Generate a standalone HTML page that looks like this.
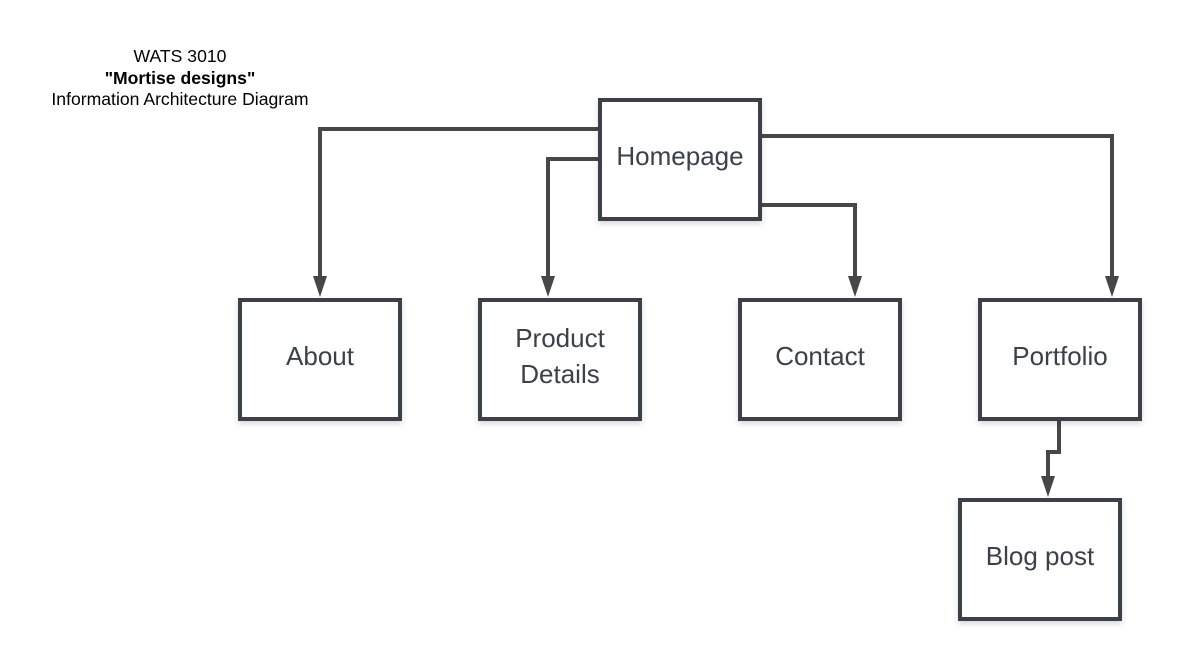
<!DOCTYPE html>
<html><head><style>
body{margin:0;background:#fff;}
svg{display:block;font-family:"Liberation Sans",sans-serif;}
</style></head><body>
<svg width="1180" height="660" viewBox="0 0 1180 660">
<defs>
<filter id="sh" x="-10%" y="-10%" width="130%" height="130%"><feDropShadow dx="0" dy="3" stdDeviation="3" flood-color="#000" flood-opacity="0.15"/></filter>
</defs>
<g fill="none" stroke="#474747" stroke-width="4">
<polyline points="600,129 320,129 320,280"/>
<polyline points="600,159 548,159 548,280"/>
<polyline points="760,205 855,205 855,280"/>
<polyline points="760,136 1112,136 1112,280"/>
<polyline points="1059,421 1059,452 1048,452 1048,480"/>
</g>
<g fill="#474747">
<polygon points="313,276 327,276 320,297"/>
<polygon points="541,276 555,276 548,297"/>
<polygon points="848,276 862,276 855,297"/>
<polygon points="1105,276 1119,276 1112,297"/>
<polygon points="1041,476 1055,476 1048,497"/>
</g>
<g fill="#fff" stroke="#3a414a" stroke-width="4" filter="url(#sh)">
<rect x="600" y="100" width="160" height="119"/>
<rect x="240" y="300" width="160" height="119"/>
<rect x="480" y="300" width="160" height="119"/>
<rect x="740" y="300" width="160" height="119"/>
<rect x="980" y="300" width="160" height="119"/>
<rect x="960" y="500" width="160" height="119"/>
</g>
<g fill="#3a414a" font-size="26" text-anchor="middle">
<text x="680" y="165">Homepage</text>
<text x="320" y="365">About</text>
<text x="560" y="347">Product</text>
<text x="560" y="383">Details</text>
<text x="820" y="365">Contact</text>
<text x="1060" y="365">Portfolio</text>
<text x="1040" y="565">Blog post</text>
</g>
<g fill="#000" font-size="17.6" text-anchor="middle">
<text x="180" y="62">WATS 3010</text>
<text x="180" y="84" font-weight="bold">"Mortise designs"</text>
<text x="180" y="105">Information Architecture Diagram</text>
</g>
</svg>
</body></html>
